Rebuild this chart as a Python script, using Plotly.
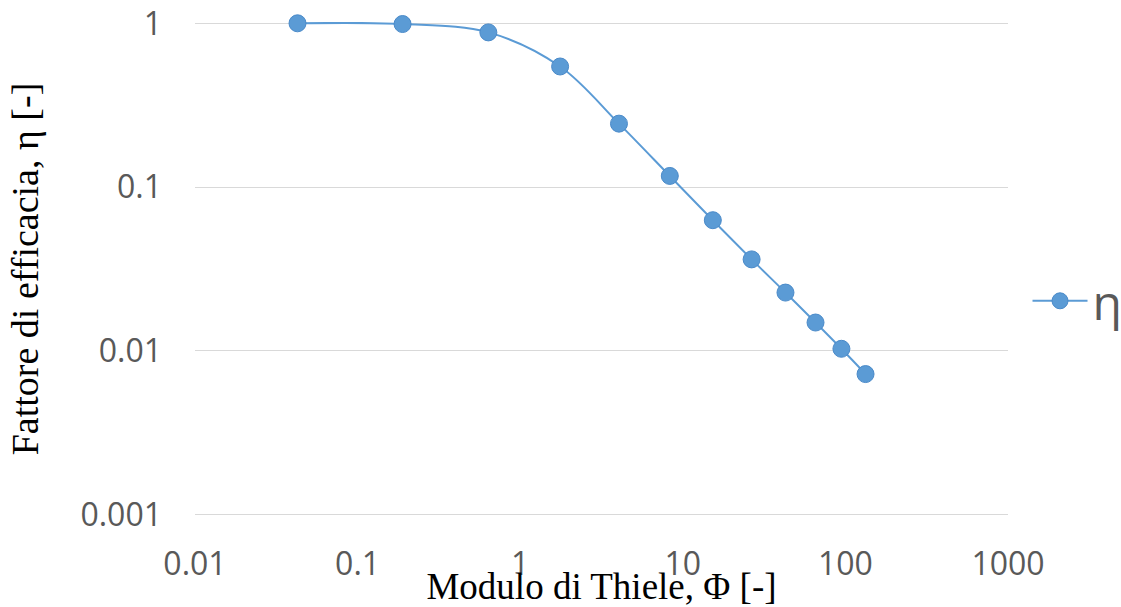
import plotly.graph_objects as go

# Data
phi = [0.0427, 0.189, 0.637, 1.76, 4.05, 8.32, 15.3, 26.5, 42.8, 65.5, 94.5, 133]
eta = [1.0, 0.99, 0.88, 0.545, 0.244, 0.117, 0.0628, 0.0362, 0.0227, 0.0149, 0.0103, 0.00722]
series_name = "η"
x_title = "Modulo di Thiele, Φ [-]"
y_title = "Fattore di efficacia, η [-]"
x_ticks = [0.01, 0.1, 1, 10, 100, 1000]
x_ticktext = ["0.01", "0.1", "1", "10", "100", "1000"]
y_ticks = [0.001, 0.01, 0.1, 1]
y_ticktext = ["0.001", "0.01", "0.1", "1"]

blue = "#5B9BD5"
grey = "#595959"

fig = go.Figure()
fig.add_trace(go.Scatter(
    x=phi, y=eta, name=series_name,
    mode="lines+markers",
    line=dict(color=blue, width=2, shape="spline", smoothing=1),
    marker=dict(size=17, color=blue, line=dict(color="#4A8AC9", width=1)),
    cliponaxis=False,
))

fig.update_layout(
    width=1121, height=607,
    margin=dict(l=195, r=113, t=22, b=91, autoexpand=False),
    paper_bgcolor="white", plot_bgcolor="white",
    showlegend=True,
    legend=dict(x=1.024, y=0.435, xanchor="left", yanchor="middle",
                font=dict(family="Open Sans", size=48, color=grey),
                itemwidth=55, bgcolor="rgba(0,0,0,0)"),
    xaxis=dict(
        type="log", range=[-2, 3],
        tickvals=x_ticks, ticktext=x_ticktext,
        showgrid=False, zeroline=False, showline=False, ticks="",
        tickfont=dict(family="Open Sans", size=32, color=grey),
        ticklabelstandoff=26,
        title=dict(text=x_title, font=dict(family="Liberation Serif", size=37, color="black"), standoff=13),
    ),
    yaxis=dict(
        type="log", range=[-3.008, 0.008],
        tickvals=y_ticks, ticktext=y_ticktext,
        showgrid=True, gridcolor="#D9D9D9", gridwidth=1.3,
        zeroline=False, showline=False, ticks="",
        tickfont=dict(family="Open Sans", size=32, color=grey),
        ticklabelstandoff=32,
        title=dict(text=y_title, font=dict(family="Liberation Serif", size=38, color="black"), standoff=30),
    ),
)

fig.write_html("out.html")
